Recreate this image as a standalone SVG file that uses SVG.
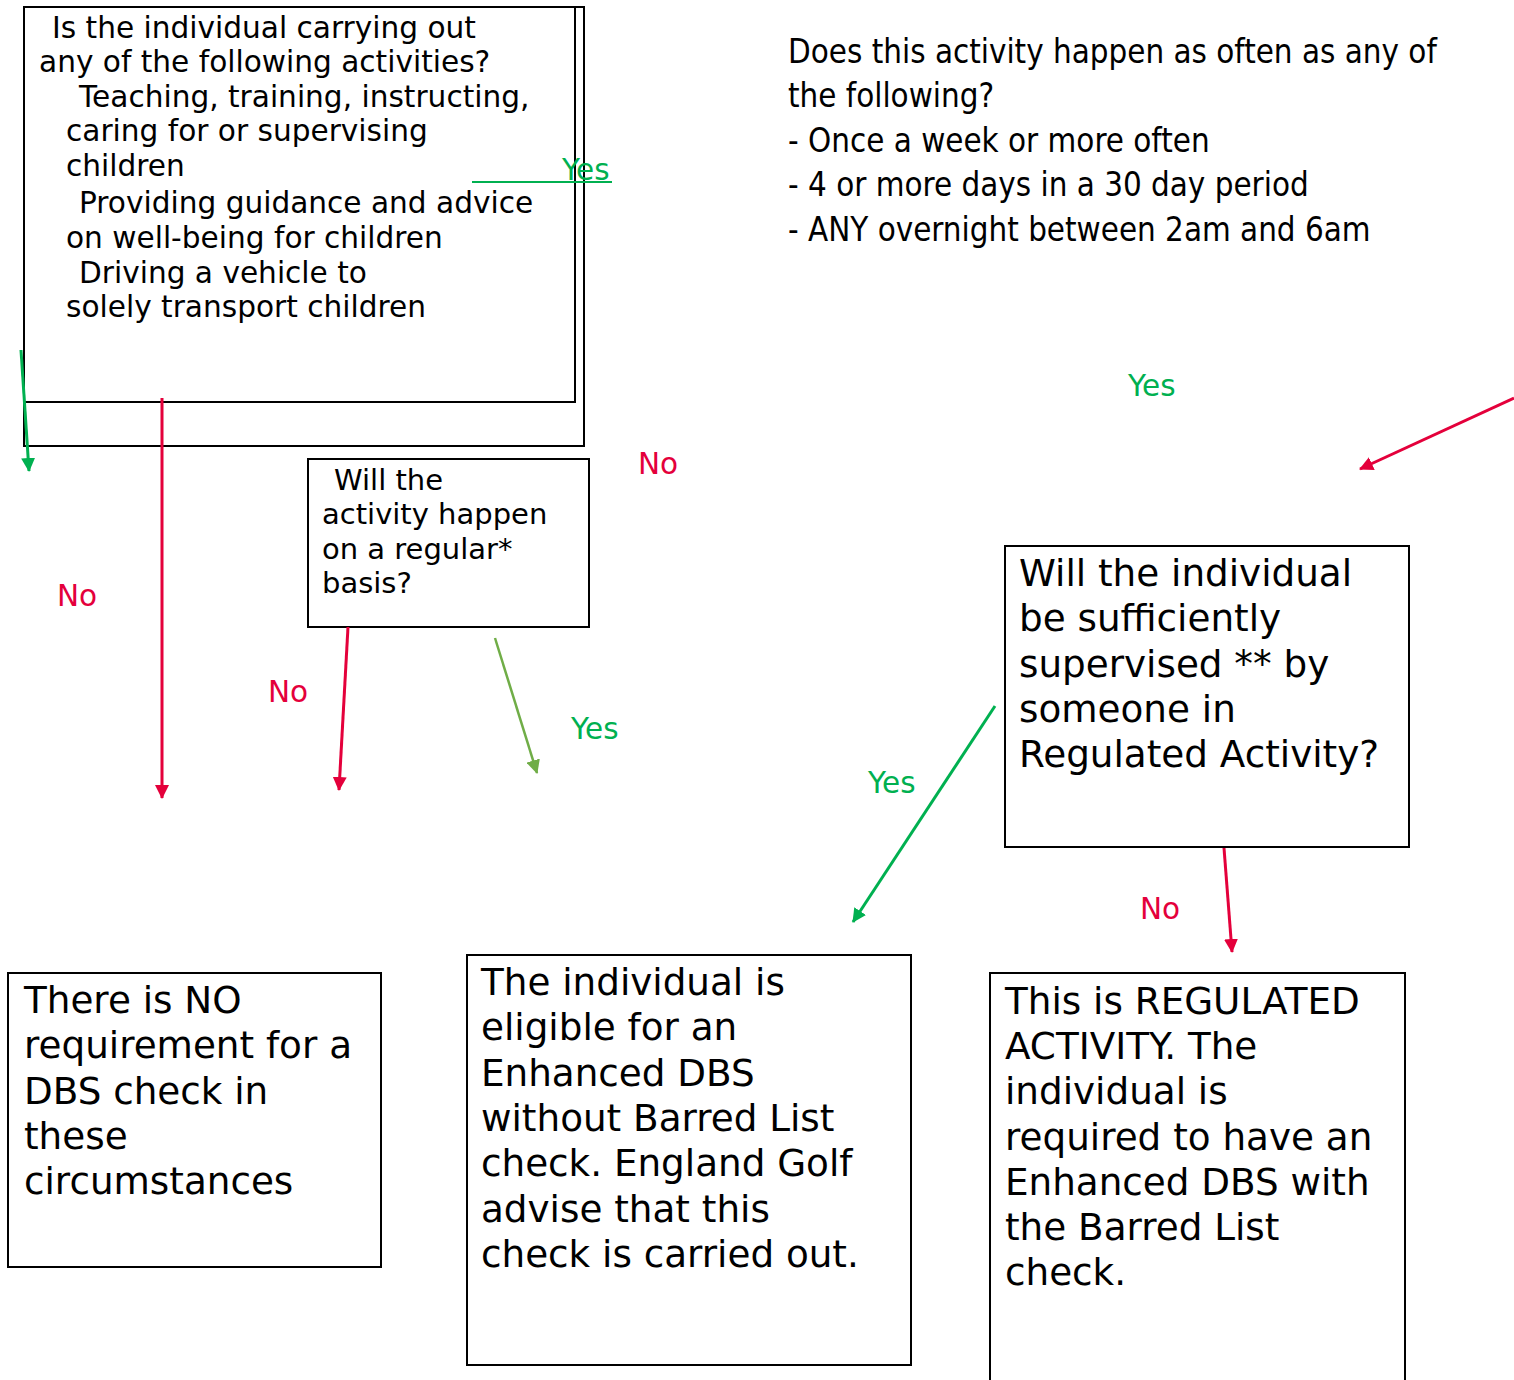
<svg xmlns="http://www.w3.org/2000/svg" width="1514" height="1380" viewBox="0 0 1514 1380">
<style>
.box{fill:#fff;stroke:#000;stroke-width:2}
.t29{font-family:"DejaVu Sans",Verdana,sans-serif;font-size:29px;fill:#000}
.t1{font-family:"DejaVu Sans",Verdana,sans-serif;font-size:29.6px;fill:#000}
.t37{font-family:"DejaVu Sans",Verdana,sans-serif;font-size:37.3px;fill:#000}
.tc{font-family:"DejaVu Sans Condensed","DejaVu Sans",sans-serif;font-size:32.8px;fill:#000}
.lbl{font-family:"DejaVu Sans",Verdana,sans-serif;font-size:29.5px}
.red{fill:#E4003B}
.grn{fill:#00B050}
.cr{stroke:#E4003B;stroke-width:3;fill:none}
.cg{stroke:#00B050;stroke-width:3;fill:none}
.co{stroke:#70AD47;stroke-width:2.5;fill:none}
</style>
<defs>
<marker id="ar" viewBox="0 0 14 14" refX="13" refY="7" markerUnits="userSpaceOnUse" markerWidth="14" markerHeight="14" orient="auto"><path d="M0,0 L14,7 L0,14 z" fill="#E4003B"/></marker>
<marker id="ag" viewBox="0 0 14 14" refX="13" refY="7" markerUnits="userSpaceOnUse" markerWidth="14" markerHeight="14" orient="auto"><path d="M0,0 L14,7 L0,14 z" fill="#00B050"/></marker>
<marker id="ao" viewBox="0 0 14 14" refX="13" refY="7" markerUnits="userSpaceOnUse" markerWidth="14" markerHeight="14" orient="auto"><path d="M0,0 L14,7 L0,14 z" fill="#70AD47"/></marker>
</defs>
<rect width="1514" height="1380" fill="#fff"/>

<g id="node-activities">
<rect class="box" x="24" y="7" width="560" height="439"/>
<rect class="box" x="24" y="7" width="551" height="395"/>
<text class="t1" x="52" y="38">Is the individual carrying out</text>
<text class="t1" x="39" y="72">any of the following activities?</text>
<text class="t1" x="79" y="107">Teaching, training, instructing,</text>
<text class="t1" x="66" y="141">caring for or supervising</text>
<text class="t1" x="66" y="176">children</text>
<text class="t1" x="79" y="213">Providing guidance and advice</text>
<text class="t1" x="66" y="248">on well-being for children</text>
<text class="t1" x="79" y="283">Driving a vehicle to</text>
<text class="t1" x="66" y="317">solely transport children</text>
</g>

<g id="node-frequency">
<text class="tc" x="788" y="63">Does this activity happen as often as any of</text>
<text class="tc" x="788" y="107">the following?</text>
<text class="tc" x="788" y="152">- Once a week or more often</text>
<text class="tc" x="788" y="196">- 4 or more days in a 30 day period</text>
<text class="tc" x="788" y="241">- ANY overnight between 2am and 6am</text>
</g>

<g id="node-regular">
<rect class="box" x="308" y="459" width="281" height="168"/>
<text class="t29" x="334" y="490">Will the</text>
<text class="t29" x="322" y="524">activity happen</text>
<text class="t29" x="322" y="559">on a regular*</text>
<text class="t29" x="322" y="593">basis?</text>
</g>

<g id="node-supervised">
<rect class="box" x="1005" y="546" width="404" height="301"/>
<text class="t37" x="1019" y="586">Will the individual</text>
<text class="t37" x="1019" y="631">be sufficiently</text>
<text class="t37" x="1019" y="677">supervised ** by</text>
<text class="t37" x="1019" y="722">someone in</text>
<text class="t37" x="1019" y="767">Regulated Activity?</text>
</g>

<g id="node-no-check">
<rect class="box" x="8" y="973" width="373" height="294"/>
<text class="t37" x="24" y="1013">There is NO</text>
<text class="t37" x="24" y="1058">requirement for a</text>
<text class="t37" x="24" y="1104">DBS check in</text>
<text class="t37" x="24" y="1149">these</text>
<text class="t37" x="24" y="1194">circumstances</text>
</g>

<g id="node-enhanced">
<rect class="box" x="467" y="955" width="444" height="410"/>
<text class="t37" x="481" y="995">The individual is</text>
<text class="t37" x="481" y="1040">eligible for an</text>
<text class="t37" x="481" y="1086">Enhanced DBS</text>
<text class="t37" x="481" y="1131">without Barred List</text>
<text class="t37" x="481" y="1176">check. England Golf</text>
<text class="t37" x="481" y="1222">advise that this</text>
<text class="t37" x="481" y="1267">check is carried out.</text>
</g>

<g id="node-regulated">
<rect class="box" x="990" y="973" width="415" height="420"/>
<text class="t37" x="1005" y="1014">This is REGULATED</text>
<text class="t37" x="1005" y="1059">ACTIVITY. The</text>
<text class="t37" x="1005" y="1104">individual is</text>
<text class="t37" x="1005" y="1150">required to have an</text>
<text class="t37" x="1005" y="1195">Enhanced DBS with</text>
<text class="t37" x="1005" y="1240">the Barred List</text>
<text class="t37" x="1005" y="1285">check.</text>
</g>

<g id="connectors">
<line x1="472" y1="182" x2="612" y2="182" stroke="#00B050" stroke-width="2"/>
<text class="lbl grn" x="562" y="180">Yes</text>
<line class="cg" x1="21" y1="350" x2="29" y2="471" marker-end="url(#ag)"/>
<line class="cr" x1="162" y1="398" x2="162" y2="798" marker-end="url(#ar)"/>
<text class="lbl red" x="57" y="606">No</text>
<text class="lbl red" x="638" y="474">No</text>
<line class="cr" x1="348" y1="627" x2="339" y2="790" marker-end="url(#ar)"/>
<text class="lbl red" x="268" y="702">No</text>
<line class="co" x1="495" y1="638" x2="537" y2="773" marker-end="url(#ao)"/>
<text class="lbl grn" x="571" y="739">Yes</text>
<text class="lbl grn" x="1128" y="396">Yes</text>
<line class="cr" x1="1514" y1="398" x2="1360" y2="469" marker-end="url(#ar)"/>
<line class="cg" x1="995" y1="706" x2="853" y2="922" marker-end="url(#ag)"/>
<text class="lbl grn" x="868" y="793">Yes</text>
<line class="cr" x1="1224" y1="848" x2="1232" y2="952" marker-end="url(#ar)"/>
<text class="lbl red" x="1140" y="919">No</text>
</g>
</svg>
